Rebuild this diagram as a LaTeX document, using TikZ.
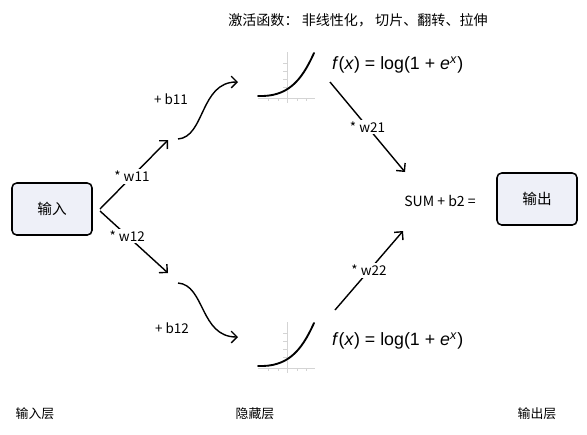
\documentclass[tikz,border=0pt]{standalone}
\usepackage{fontspec}
\setmainfont{Noto Sans CJK SC}
\newfontfamily\formfont{Liberation Sans}
\usepackage{tikz}
\usetikzlibrary{arrows.meta}
\definecolor{boxfill}{HTML}{EEF0F8}
\definecolor{axisgray}{HTML}{D4D4D4}
\tikzset{
  layerbox/.style={draw,line width=1.3pt,rounded corners=4pt,fill=boxfill,
    minimum width=2.4cm,minimum height=1.56cm,font=\fontsize{12.5}{14}\selectfont},
  conn/.style={line width=1.2pt,-{Straight Barb[length=5pt,width=10pt]}},
  wlabel/.style={fill=white,inner sep=1.5pt,font=\fontsize{11.5}{13}\selectfont},
  txt/.style={font=\fontsize{11}{13}\selectfont},
  formula/.style={anchor=west,inner sep=0pt,font=\formfont\fontsize{15.2}{17}\selectfont}
}
\begin{document}
\begin{tikzpicture}[x=0.03cm,y=-0.03cm]
\useasboundingbox (0,0) rectangle (587,434);
% boxes
\node[layerbox] (inbox) at (52,209) {输入};
\node[layerbox] (outbox) at (537,199) {输出};
\node[txt,font=\fontsize{12}{14}\selectfont] (sum) at (440,201) {SUM + b2 =};
\node[txt,font=\fontsize{12}{14}\selectfont] (title) at (358,20) {激活函数： 非线性化， 切片、翻转、拉伸};
% activation plots
\foreach \dy in {0,270}{
  \draw[axisgray,line width=0.6pt] (287,52+\dy) -- (287,103+\dy);
  \draw[axisgray,line width=0.6pt] (258,98+\dy) -- (315,98+\dy);
  \foreach \ty in {63,71,79,87} \draw[axisgray,line width=0.5pt] (283,\ty+\dy) -- (287,\ty+\dy);
  \foreach \tx in {268,278,297,306} \draw[axisgray,line width=0.5pt] (\tx,98+\dy) -- (\tx,101+\dy);
  \draw[line width=1.6pt,line cap=round] (258,96+\dy) .. controls (287,97+\dy) and (301,82+\dy) .. (314,53+\dy);
}
\node[formula] (f1) at (332,65) {\textit{f}(\textit{x}) = log(1 + \textit{e}\textsuperscript{\textit{x}})};
\node[formula] (f2) at (332,341) {\textit{f}(\textit{x}) = log(1 + \textit{e}\textsuperscript{\textit{x}})};
% connector ends
\coordinate (w11s) at (100,209); \coordinate (w11e) at (168,140);
\coordinate (w12s) at (100,211); \coordinate (w12e) at (168,273);
\coordinate (b11s) at (178,139); \coordinate (b11e) at (238,82);
\coordinate (b12s) at (178,283); \coordinate (b12e) at (238,337);
\coordinate (w21s) at (330,82);  \coordinate (w21e) at (405,172);
\coordinate (w22s) at (335,310); \coordinate (w22e) at (403,231);
% weights
\draw[conn] (w11s) -- node[wlabel,pos=0.47] {* w11} (w11e);
\draw[conn] (w12s) -- node[wlabel,pos=0.4] {* w12} (w12e);
\draw[conn] (w21s) -- node[wlabel,pos=0.5] {* w21} (w21e);
\draw[conn] (w22s) -- node[wlabel,pos=0.5] {* w22} (w22e);
% biases
\draw[conn] (b11s) .. controls (205,137) and (200,82) .. (b11e);
\draw[conn] (b12s) .. controls (205,285) and (200,337) .. (b12e);
\node[wlabel] (b11) at (171,99) {+ b11};
\node[wlabel] (b12) at (172,328) {+ b12};
% layer names
\node[txt] (l1) at (35,414) {输入层};
\node[txt] (l2) at (255,414) {隐藏层};
\node[txt] (l3) at (537,414) {输出层};
\end{tikzpicture}
\end{document}
